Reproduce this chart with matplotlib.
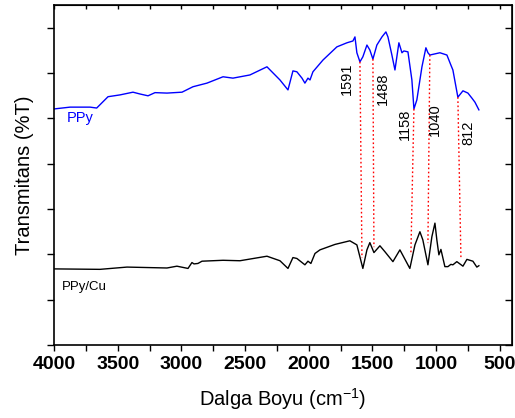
import numpy as np
import matplotlib
matplotlib.use("Agg")
import matplotlib.pyplot as plt

plt.rcParams['font.family'] = ['Liberation Sans', 'DejaVu Sans']

# PPy spectrum (wavenumber, transmittance in arbitrary offset units)
ppy_wn = [4000, 3874, 3717, 3665, 3576, 3482, 3380, 3325, 3262, 3207, 3113, 2995,
          2909, 2799, 2673, 2595, 2462, 2328, 2226, 2163, 2124, 2093, 2053, 2030,
          2006, 1990, 1967, 1888, 1779, 1700, 1653, 1637, 1622, 1598, 1575, 1543,
          1520, 1496, 1465, 1425, 1394, 1378, 1347, 1323, 1308, 1292, 1268, 1253,
          1221, 1190, 1174, 1151, 1111, 1080, 1064, 1049, 970, 915, 884, 868,
          829, 789, 750, 719, 695, 664]
ppy_t = [5.21, 5.25, 5.25, 5.23, 5.48, 5.52, 5.58, 5.54, 5.50, 5.57, 5.56, 5.58,
         5.70, 5.78, 5.92, 5.89, 5.96, 6.14, 5.85, 5.63, 6.05, 6.03, 5.89, 5.78,
         5.89, 5.85, 6.03, 6.29, 6.58, 6.67, 6.71, 6.80, 6.45, 6.25, 6.36, 6.62,
         6.51, 6.31, 6.62, 6.80, 6.91, 6.80, 6.40, 6.07, 6.36, 6.67, 6.45, 6.49,
         6.47, 5.85, 5.21, 5.41, 6.14, 6.56, 6.45, 6.40, 6.45, 6.40, 6.18, 6.07,
         5.47, 5.61, 5.56, 5.45, 5.36, 5.19]

# PPy/Cu spectrum
cu_wn = [4000, 3639, 3427, 3113, 3035, 2948, 2917, 2901, 2870, 2838, 2673, 2540,
         2328, 2226, 2163, 2124, 2093, 2030, 2006, 1983, 1951, 1912, 1794, 1677,
         1622, 1575, 1543, 1520, 1488, 1441, 1402, 1339, 1284, 1206, 1166, 1127,
         1104, 1064, 1033, 1009, 994, 978, 962, 931, 907, 884, 868, 837,
         789, 758, 711, 680, 664]
cu_t = [1.68, 1.67, 1.72, 1.70, 1.74, 1.69, 1.82, 1.79, 1.80, 1.85, 1.87, 1.86,
        1.96, 1.86, 1.69, 1.93, 1.91, 1.77, 1.85, 1.80, 2.02, 2.10, 2.22, 2.30,
        2.21, 1.69, 2.10, 2.26, 2.04, 2.19, 2.06, 1.84, 2.10, 1.69, 2.21, 2.50,
        2.32, 1.77, 2.39, 2.69, 2.32, 1.99, 2.11, 1.73, 1.73, 1.78, 1.77, 1.84,
        1.74, 1.89, 1.85, 1.72, 1.75]

# peak markers
peak_labels = ['1591', '1488', '1158', '1040', '812']
peak_top_wn = [1598, 1496, 1174, 1049, 829]
peak_top_t = [6.25, 6.31, 5.21, 6.40, 5.47]
peak_bot_wn = [1582, 1488, 1198, 1064, 805]
peak_bot_t = [1.92, 2.16, 1.99, 2.25, 1.94]
label_wn = [1700, 1418, 1245, 1009, 750]
label_t = [5.87, 5.65, 4.86, 4.97, 4.68]

fig = plt.figure(figsize=(5.15, 4.18), dpi=100)
ax = fig.add_axes([0.1049, 0.1746, 0.889, 0.813])

ax.plot(ppy_wn, ppy_t, color='#0000ff', lw=1.0)
ax.plot(cu_wn, cu_t, color='black', lw=1.0)

for i in range(len(peak_labels)):
    ax.plot([peak_top_wn[i], peak_bot_wn[i]], [peak_top_t[i], peak_bot_t[i]],
            color='red', lw=1.0, ls=(0, (1.2, 1.8)))
    ax.text(label_wn[i], label_t[i], peak_labels[i], rotation=90,
            ha='center', va='center', fontsize=10.5)

ax.text(3900, 4.92, 'PPy', color='#0000ff', fontsize=10.5)
ax.text(3940, 1.22, 'PPy/Cu', color='black', fontsize=9.5)

ax.set_xlim(4000, 405)
ax.set_ylim(0, 7.5)
ax.set_xticks([4000, 3500, 3000, 2500, 2000, 1500, 1000, 500])
ax.set_xticks(np.arange(3750, 400, -500), minor=True)
ax.set_yticks(range(8))
ax.set_yticklabels([])
for lab in ax.get_xticklabels():
    lab.set_fontweight('bold')
ax.tick_params(axis='x', which='both', direction='out', length=4, width=1,
               labelsize=14, pad=4)
ax.tick_params(axis='y', direction='out', length=5, width=1)

# ticks on top and right, pointing inward
top = ax.secondary_xaxis('top')
top.set_xticks(np.arange(4000, 400, -250))
top.set_xticklabels([])
top.tick_params(direction='in', length=3, width=1)
right = ax.secondary_yaxis('right')
right.set_yticks(range(8))
right.set_yticklabels([])
right.tick_params(direction='in', length=5, width=1)

for s in ax.spines.values():
    s.set_linewidth(1.2)

ax.set_xlabel('Dalga Boyu (cm$^{\\mathregular{-1}}$)', fontsize=14.5, labelpad=9)
ax.set_ylabel('Transmitans (%T)', fontsize=14.5, labelpad=6)

fig.savefig('out.png', dpi=100)
